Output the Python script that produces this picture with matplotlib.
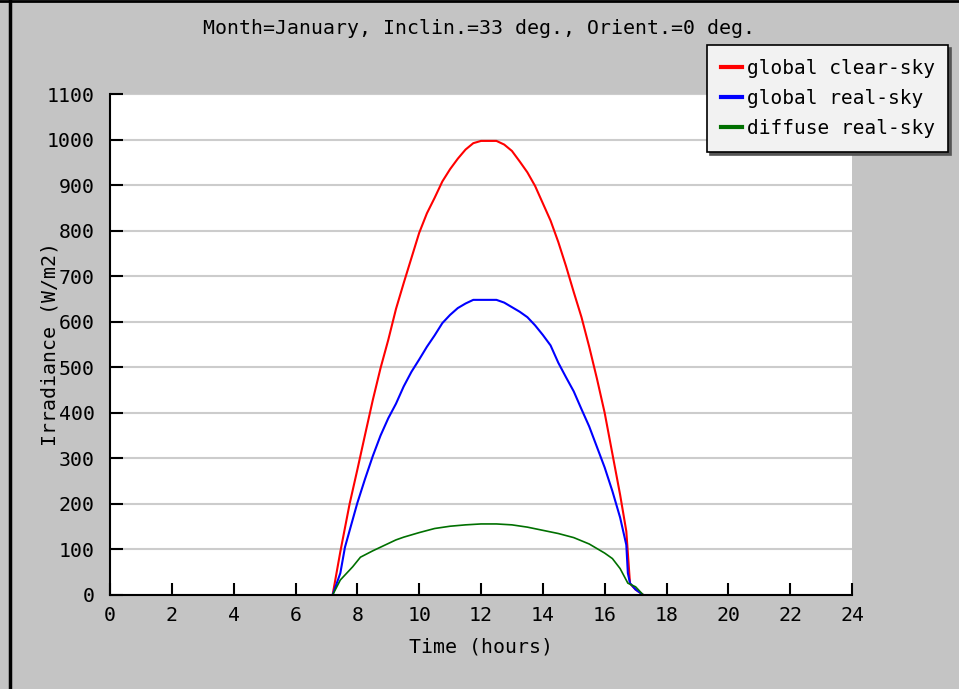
import numpy as np
import matplotlib
matplotlib.use("Agg")
import matplotlib.pyplot as plt
from matplotlib.lines import Line2D

# irradiance values (W/m2) vs time of day (hours)
t_clear = [7.2, 7.45, 7.75, 8.0, 8.25, 8.5, 8.75, 9.0, 9.25, 9.5, 9.75, 10.0, 10.25, 10.5,
           10.75, 11.0, 11.25, 11.5, 11.75, 12.0, 12.25, 12.5, 12.75, 13.0, 13.25, 13.5,
           13.75, 14.0, 14.25, 14.5, 14.75, 15.0, 15.25, 15.5, 15.75, 16.0, 16.25, 16.5,
           16.7, 16.82, 17.0, 17.25]
g_clear = [0, 95, 200, 275, 352, 428, 498, 560, 628, 685, 740, 795, 838, 872,
           908, 935, 958, 978, 992, 997, 997, 997, 989, 975, 952, 928,
           898, 860, 822, 775, 722, 665, 610, 545, 475, 400, 310, 220,
           140, 25, 12, 0]

t_real = [7.2, 7.45, 7.6, 8.0, 8.25, 8.5, 8.75, 9.0, 9.25, 9.5, 9.75, 10.0, 10.25, 10.5,
          10.75, 11.0, 11.25, 11.5, 11.75, 12.0, 12.25, 12.5, 12.75, 13.0, 13.25, 13.5,
          13.75, 14.0, 14.25, 14.5, 14.75, 15.0, 15.25, 15.5, 15.75, 16.0, 16.25, 16.5,
          16.7, 16.75, 16.82, 17.0, 17.25]
g_real = [0, 48, 105, 202, 255, 305, 350, 388, 420, 458, 490, 517, 545, 570,
          597, 615, 630, 640, 648, 648, 648, 648, 642, 632, 622, 610,
          592, 571, 548, 510, 478, 447, 408, 370, 325, 280, 228, 170,
          110, 48, 26, 12, 0]

t_diff = [7.2, 7.45, 7.85, 8.1, 8.5, 8.75, 9.25, 9.5, 10.0, 10.5, 11.0, 11.5, 12.0, 12.5,
          13.0, 13.5, 14.0, 14.5, 15.0, 15.5, 16.0, 16.25, 16.5, 16.75, 17.0, 17.25]
d_real = [0, 33, 62, 83, 97, 105, 121, 127, 137, 146, 151, 154, 156, 156,
          154, 149, 142, 135, 126, 112, 92, 80, 58, 26, 18, 0]

labels = ["global clear-sky", "global real-sky", "diffuse real-sky"]
colors = ["#ff0000", "#0000ff", "#007000"]

plt.rcParams['font.family'] = 'DejaVu Sans Mono'
fs = 14.3

fig = plt.figure(figsize=(9.59, 6.89), dpi=100, facecolor='#c4c4c4')
ax = fig.add_axes([110/959, 1-595/689, (852-110)/959, (595-94)/689])
ax.set_facecolor('white')

ax.plot(t_clear, g_clear, color=colors[0], lw=1.5)
ax.plot(t_real, g_real, color=colors[1], lw=1.5)
ax.plot(t_diff, d_real, color=colors[2], lw=1.2)

ax.set_xlim(0, 24)
ax.set_ylim(0, 1100)
ax.set_xticks(np.arange(0, 25, 2))
ax.set_yticks(np.arange(0, 1101, 100))
ax.grid(axis='y', color='#cccccc', lw=1.5)
ax.set_axisbelow(True)
ax.tick_params(axis='x', direction='in', length=9, width=1.5, pad=8, labelsize=fs)
ax.tick_params(axis='y', direction='in', length=9, width=1.5, pad=11, labelsize=fs)
for s in ['top', 'right']:
    ax.spines[s].set_visible(False)
for s in ['left', 'bottom']:
    ax.spines[s].set_linewidth(1.5)

ax.set_xlabel("Time (hours)", fontsize=fs, labelpad=9)
ax.set_ylabel("Irradiance (W/m2)", fontsize=fs, labelpad=-9)
fig.text(0.4995, 1-28/689, "Month=January, Inclin.=33 deg., Orient.=0 deg.",
         ha='center', va='center', fontsize=fs)

handles = [Line2D([], [], color=c, lw=3) for c in colors]
leg = fig.legend(handles, labels, loc='upper left', bbox_to_anchor=(707/959, 1-45/689),
                 bbox_transform=fig.transFigure, borderaxespad=0, fancybox=False,
                 shadow={'color': '#555555', 'alpha': 1}, framealpha=1,
                 edgecolor='black', facecolor='#f2f2f2', fontsize=14,
                 handlelength=1.1, handletextpad=0.25, labelspacing=0.58,
                 borderpad=0.7)
leg.get_frame().set_linewidth(1.2)

# black border of the screenshot on the left and top
fig.add_artist(Line2D([9.5/959, 9.5/959], [0, 1], color='black', lw=2.5,
                      transform=fig.transFigure))
fig.add_artist(Line2D([0, 1], [1-1/689, 1-1/689], color='black', lw=2,
                      transform=fig.transFigure))

fig.savefig("out.png", dpi=100, facecolor=fig.get_facecolor())
